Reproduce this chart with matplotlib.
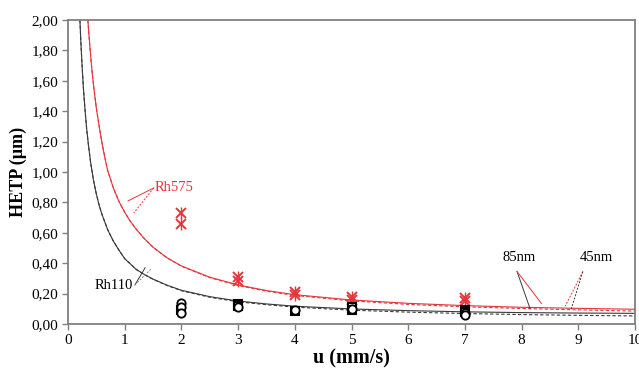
import matplotlib
matplotlib.use("Agg")
import matplotlib.pyplot as plt
from matplotlib.ticker import FuncFormatter

# fitted curves, values
u_black = [0.21, 0.23, 0.25, 0.27, 0.30, 0.33, 0.36, 0.40, 0.45, 0.50, 0.55, 0.60,
           0.70, 0.80, 0.90, 1.00, 1.10, 1.20, 1.35, 1.50, 1.75, 2.00, 2.50, 3.00,
           3.50, 4.00, 5.00, 6.00, 7.00, 8.00, 9.00, 10.0]
h_black_85 = [2.00, 1.83, 1.69, 1.56, 1.41, 1.28, 1.18, 1.06, 0.945, 0.855, 0.78, 0.72,
              0.62, 0.545, 0.485, 0.43, 0.395, 0.36, 0.325, 0.295, 0.255, 0.222, 0.180, 0.151,
              0.132, 0.117, 0.099, 0.088, 0.080, 0.075, 0.072, 0.070]
h_black_45 = [2.00, 1.83, 1.69, 1.56, 1.41, 1.28, 1.18, 1.06, 0.945, 0.855, 0.78, 0.72,
              0.62, 0.545, 0.485, 0.43, 0.395, 0.36, 0.325, 0.294, 0.253, 0.219, 0.176, 0.146,
              0.127, 0.111, 0.091, 0.078, 0.069, 0.062, 0.057, 0.053]

u_red = [0.35, 0.37, 0.40, 0.43, 0.46, 0.50, 0.55, 0.60, 0.65, 0.70, 0.80, 0.90,
         1.00, 1.10, 1.20, 1.35, 1.50, 1.75, 2.00, 2.50, 3.00, 3.50, 4.00, 5.00,
         6.00, 7.00, 8.00, 9.00, 10.0]
h_red_85 = [2.00, 1.90, 1.76, 1.64, 1.54, 1.42, 1.30, 1.19, 1.095, 1.01, 0.895, 0.805,
            0.735, 0.675, 0.625, 0.56, 0.505, 0.435, 0.382, 0.308, 0.257, 0.220, 0.193, 0.158,
            0.136, 0.121, 0.110, 0.103, 0.097]
h_red_45 = [2.00, 1.90, 1.76, 1.64, 1.54, 1.42, 1.30, 1.19, 1.095, 1.01, 0.895, 0.805,
            0.735, 0.675, 0.625, 0.56, 0.505, 0.434, 0.380, 0.305, 0.253, 0.216, 0.188, 0.152,
            0.129, 0.113, 0.102, 0.093, 0.085]

# measured points
u_rh575 = [2, 3, 4, 5, 7]
h_rh575_a = [0.73, 0.31, 0.21, 0.18, 0.17]
h_rh575_b = [0.66, 0.28, 0.19, 0.16, 0.15]

u_rh110_o = [2, 2, 2, 3, 4, 5, 7, 7]
h_rh110_o = [0.135, 0.115, 0.07, 0.11, 0.09, 0.10, 0.07, 0.06]
u_rh110_s = [2, 3, 3, 4, 5, 5, 7, 7]
h_rh110_s = [0.09, 0.13, 0.12, 0.085, 0.11, 0.09, 0.09, 0.08]

RED = "#e5343c"
BLACK = "#3a3a3a"
GREY = "#808080"

plt.rcParams["font.family"] = ["Liberation Serif", "DejaVu Serif"]

fig = plt.figure(figsize=(6.39, 3.69), dpi=100)
ax = fig.add_axes([68 / 639, 45 / 369, 567 / 639, 304 / 369])

ax.plot(u_red, h_red_85, color=RED, lw=0.8)
ax.plot(u_red, h_red_45, color=RED, lw=0.8, ls=(0, (3, 2)))
ax.plot(u_black, h_black_85, color=BLACK, lw=0.8)
ax.plot(u_black, h_black_45, color=BLACK, lw=0.8, ls=(0, (3, 2)))

ax.plot(u_rh575, h_rh575_a, ls="none", marker="x", ms=7, mew=1.4, color=RED)
ax.plot(u_rh575, h_rh575_b, ls="none", marker="x", ms=7, mew=1.4, color=RED)
ax.plot(u_rh575, h_rh575_b, ls="none", marker="|", ms=9, mew=1.0, color=RED)
ax.plot(u_rh575, h_rh575_a, ls="none", marker="|", ms=9, mew=1.0, color=RED)
ax.plot(u_rh110_s, h_rh110_s, ls="none", marker="s", ms=6, mew=1.5,
        mfc="white", mec="black")
ax.plot(u_rh110_o, h_rh110_o, ls="none", marker="o", ms=6, mew=1.3,
        mfc="white", mec="black")

# labels with pointer lines
ax.text(1.53, 0.895, "Rh575", color=RED, fontsize=10.5, va="center")
ax.plot([1.51, 1.06], [0.895, 0.81], color=RED, lw=0.7)
ax.plot([1.51, 1.16], [0.895, 0.73], color=RED, lw=0.7, ls=(0, (2, 1.5)))

ax.text(0.47, 0.255, "Rh110", color="black", fontsize=10.5, va="center")
ax.plot([1.18, 1.36], [0.257, 0.37], color=BLACK, lw=0.7)
ax.plot([1.18, 1.46], [0.257, 0.36], color=GREY, lw=0.7, ls=(0, (2, 1.5)))

ax.text(7.96, 0.44, "85nm", color="black", fontsize=10.5, ha="center", va="center")
ax.plot([7.92, 8.15], [0.345, 0.10], color=BLACK, lw=0.7)
ax.plot([7.92, 8.35], [0.345, 0.135], color=RED, lw=0.7)

ax.text(9.32, 0.44, "45nm", color="black", fontsize=10.5, ha="center", va="center")
ax.plot([9.08, 8.77], [0.345, 0.118], color=RED, lw=0.7, ls=(0, (2, 1.5)))
ax.plot([9.08, 8.87], [0.345, 0.092], color=BLACK, lw=0.7, ls=(0, (2, 1.5)))

ax.set_xlim(0, 10)
ax.set_ylim(0, 2)
ax.set_xticks(range(0, 11))
ax.set_yticks([i * 0.2 for i in range(11)])
ax.yaxis.set_major_formatter(FuncFormatter(lambda v, p: f"{v:.2f}".replace(".", ",")))

for s in ax.spines.values():
    s.set_color(GREY)
    s.set_linewidth(1.3)
ax.tick_params(direction="out", length=4, width=1, color=GREY, labelsize=11,
               pad=3)

ax.set_xlabel("u (mm/s)", fontsize=14.5, fontweight="bold", labelpad=1)
ax.set_ylabel("HETP (µm)", fontsize=13, fontweight="bold", labelpad=3)

fig.savefig("out.png", dpi=100)
